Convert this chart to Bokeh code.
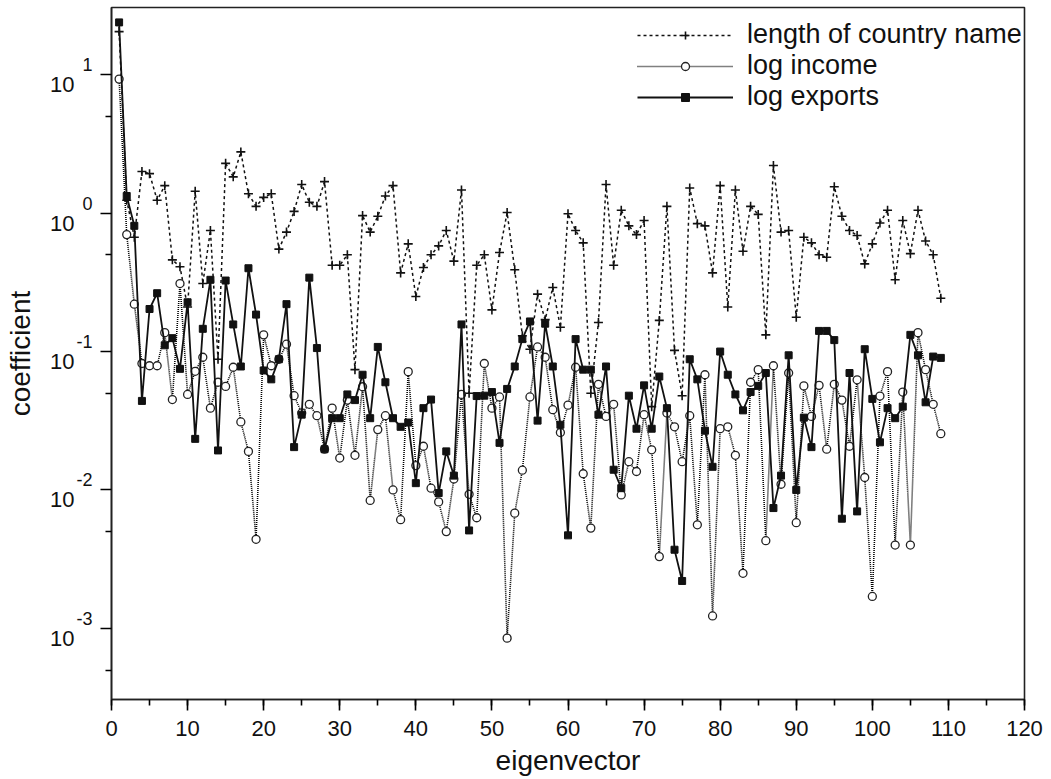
from bokeh.plotting import figure
from bokeh.models import (Range1d, FixedTicker, SingleIntervalTicker,
                          Legend, LegendItem, ColumnDataSource, LogAxis,
                          LogScale, CustomJSTickFormatter)
from bokeh.embed import file_html
from bokeh.resources import INLINE

# ---------------- data ----------------
eigenvector = list(range(1, 110))

country_name_length = [
    20.5, 1.24, 0.67, 2.0, 1.93, 1.24, 1.58, 0.46, 0.41, 0.21,
    1.44, 0.31, 0.75, 0.088, 2.29, 1.83, 2.77, 1.38, 1.12, 1.3,
    1.38, 0.55, 0.73, 1.03, 1.61, 1.2, 1.12, 1.69, 0.42, 0.42,
    0.50, 0.074, 0.96, 0.73, 0.95, 1.33, 1.58, 0.37, 0.60, 0.25,
    0.405, 0.50, 0.58, 0.75, 0.45, 1.47, 0.05, 0.42, 0.50, 0.20,
    0.52, 1.01, 0.39, 0.13, 0.104, 0.26, 0.17, 0.29, 0.15, 0.99,
    0.75, 0.61, 0.05, 0.162, 1.61, 0.42, 1.05, 0.81, 0.70, 0.885,
    0.04, 0.168, 1.12, 0.102, 0.048, 1.52, 0.84, 0.81, 0.37, 1.58,
    0.21, 1.47, 0.53, 1.12, 0.98, 0.132, 2.21, 0.73, 0.75, 0.177,
    0.67, 0.61, 0.50, 0.48, 1.55, 0.95, 0.75, 0.69, 0.43, 0.60,
    0.85, 1.05, 0.33, 0.885, 0.51, 1.05, 0.63, 0.50, 0.243,
]

log_income = [
    9.3, 0.70, 0.22, 0.082, 0.079, 0.079, 0.137, 0.045, 0.31, 0.049,
    0.072, 0.091, 0.039, 0.060, 0.056, 0.077, 0.031, 0.019, 0.0044, 0.132,
    0.079, 0.088, 0.113, 0.048, 0.036, 0.0416, 0.0344, 0.0197, 0.039, 0.017,
    0.0446, 0.0178, 0.0557, 0.0084, 0.0273, 0.0344, 0.010, 0.0061, 0.0716, 0.015,
    0.0207, 0.0103, 0.0082, 0.0050, 0.012, 0.049, 0.0093, 0.0063, 0.082, 0.039,
    0.047, 0.00085, 0.0068, 0.0139, 0.047, 0.108, 0.091, 0.038, 0.026, 0.041,
    0.077, 0.0131, 0.0053, 0.058, 0.034, 0.0416, 0.0092, 0.016, 0.0136, 0.035,
    0.0195, 0.0033, 0.036, 0.0286, 0.016, 0.0344, 0.0056, 0.068, 0.00123, 0.0277,
    0.0286, 0.0178, 0.0025, 0.060, 0.074, 0.0043, 0.079, 0.011, 0.070, 0.0058,
    0.0565, 0.034, 0.057, 0.0197, 0.058, 0.0446, 0.0207, 0.0625, 0.0123, 0.0017,
    0.0477, 0.0716, 0.004, 0.051, 0.004, 0.137, 0.074, 0.0416, 0.0255,
]

log_exports = [
    23.9, 1.33, 0.81, 0.044, 0.203, 0.264, 0.111, 0.125, 0.075, 0.227,
    0.0234, 0.146, 0.33, 0.0193, 0.326, 0.157, 0.078, 0.40, 0.185, 0.073,
    0.063, 0.088, 0.22, 0.0204, 0.035, 0.342, 0.106, 0.0197, 0.033, 0.033,
    0.049, 0.0446, 0.068, 0.033, 0.108, 0.060, 0.033, 0.0286, 0.0307, 0.0112,
    0.039, 0.045, 0.0095, 0.019, 0.0127, 0.157, 0.0051, 0.0477, 0.048, 0.051,
    0.0219, 0.0537, 0.078, 0.123, 0.165, 0.0317, 0.159, 0.078, 0.0296, 0.0047,
    0.123, 0.074, 0.074, 0.035, 0.078, 0.014, 0.0103, 0.048, 0.0277, 0.057,
    0.0277, 0.066, 0.039, 0.0037, 0.0022, 0.088, 0.063, 0.0268, 0.0147, 0.1,
    0.068, 0.049, 0.0376, 0.051, 0.0565, 0.070, 0.0074, 0.0127, 0.094, 0.010,
    0.0333, 0.0204, 0.141, 0.141, 0.121, 0.0062, 0.070, 0.007, 0.104, 0.0455,
    0.0221, 0.039, 0.033, 0.040, 0.132, 0.094, 0.043, 0.092, 0.090,
]

series_labels = ["length of country name", "log income", "log exports"]
x_label = "eigenvector"
y_label = "coefficient"
y_decade_exponents = [-3, -2, -1, 0, 1]
y_minor_ticks = [5e-4, 5e-3, 5e-2, 5e-1, 5.0]

# ---------------- styling ----------------
FONT = "Liberation Sans"
INK = "#111111"
AX = "#222222"

LOG_LO, LOG_HI = -3.514, 1.486          # visible decades of the y axis
FRAME_H = 692                            # frame height in px
PX_PER_DEC = FRAME_H / (LOG_HI - LOG_LO)
EXP_UP = 10 / PX_PER_DEC                 # exponent raised ~10px
BASE_DN = 10 / PX_PER_DEC                # "10" lowered ~10px

src = ColumnDataSource(dict(x=eigenvector, c=country_name_length,
                            inc=log_income, exp=log_exports))

p = figure(width=1051, height=779,
           x_range=Range1d(0, 120),
           y_range=Range1d(10 ** LOG_LO, 10 ** LOG_HI),
           y_axis_type="log",
           output_backend="svg", toolbar_location=None,
           min_border_left=111, min_border_right=27,
           min_border_top=7, min_border_bottom=80)

p.background_fill_color = "white"
p.border_fill_color = "white"
p.outline_line_color = AX
p.outline_line_width = 1.6
p.xgrid.visible = False
p.ygrid.visible = False

# x axis
xa = p.xaxis[0]
xa.ticker = SingleIntervalTicker(interval=10, num_minor_ticks=2)
xa.axis_label = x_label
xa.axis_label_text_font = FONT
xa.axis_label_text_font_size = "28px"
xa.axis_label_text_font_style = "normal"
xa.axis_label_text_color = INK
xa.axis_label_standoff = 6
xa.major_label_text_font = FONT
xa.major_label_text_font_size = "22px"
xa.major_label_text_color = INK
xa.major_label_standoff = 10
xa.major_tick_out = 11
xa.major_tick_in = 0
xa.minor_tick_out = 6
xa.minor_tick_in = 0
xa.axis_line_width = 1.6
xa.axis_line_color = AX
xa.major_tick_line_width = 1.6
xa.minor_tick_line_width = 1.6

# main y axis: ticks only
decades = [10.0 ** k for k in y_decade_exponents]
ya = p.yaxis[0]
ya.ticker = FixedTicker(ticks=decades, minor_ticks=y_minor_ticks)
ya.formatter = CustomJSTickFormatter(code="return ''")
ya.major_label_text_font = FONT
ya.major_label_text_font_size = "22px"
ya.major_label_standoff = 0
ya.major_tick_out = 11
ya.major_tick_in = 0
ya.minor_tick_out = 6
ya.minor_tick_in = 0
ya.axis_line_width = 1.6
ya.axis_line_color = AX
ya.major_tick_line_width = 1.6
ya.minor_tick_line_width = 1.6

# label axes: exponent (raised) and base "10" (lowered)
p.extra_y_ranges = {
    "exp": Range1d(10 ** (LOG_LO - EXP_UP), 10 ** (LOG_HI - EXP_UP)),
    "base": Range1d(10 ** (LOG_LO + BASE_DN), 10 ** (LOG_HI + BASE_DN)),
}
p.extra_y_scales = {"exp": LogScale(), "base": LogScale()}

exp_axis = LogAxis(y_range_name="exp",
                   ticker=FixedTicker(ticks=decades, minor_ticks=[]),
                   formatter=CustomJSTickFormatter(
                       code="return Math.round(Math.log10(tick)).toString()"),
                   axis_line_color=None, major_tick_line_color=None,
                   minor_tick_line_color=None, major_tick_out=0, major_tick_in=0,
                   minor_tick_out=0, minor_tick_in=0,
                   major_label_standoff=8,
                   major_label_text_font=FONT,
                   major_label_text_font_size="18px",
                   major_label_text_color=INK)
p.add_layout(exp_axis, "left")

base_axis = LogAxis(y_range_name="base",
                    ticker=FixedTicker(ticks=decades, minor_ticks=[]),
                    formatter=CustomJSTickFormatter(code="return '10'"),
                    axis_line_color=None, major_tick_line_color=None,
                    minor_tick_line_color=None, major_tick_out=0, major_tick_in=0,
                    minor_tick_out=0, minor_tick_in=0,
                    major_label_standoff=-1,
                    major_label_text_font=FONT,
                    major_label_text_font_size="22px",
                    major_label_text_color=INK,
                    axis_label=y_label,
                    axis_label_text_font=FONT,
                    axis_label_text_font_size="28px",
                    axis_label_text_font_style="normal",
                    axis_label_text_color=INK,
                    axis_label_standoff=11)
p.add_layout(base_axis, "left")

# series
l1 = p.line("x", "c", source=src, line_color=INK, line_width=1.5, line_dash="3 3")
s1 = p.scatter("x", "c", source=src, marker="cross", size=9,
               line_color=INK, line_width=1.6)
l2 = p.line("x", "inc", source=src, line_color="#000000", line_width=1.6, line_dash="1 1")
s2 = p.scatter("x", "inc", source=src, marker="circle", size=8,
               line_color=AX, line_width=1.3, fill_color="white")
l3 = p.line("x", "exp", source=src, line_color=INK, line_width=1.8)
s3 = p.scatter("x", "exp", source=src, marker="square", size=7,
               line_color=INK, fill_color=INK)

legend = Legend(items=[
    LegendItem(label=series_labels[0], renderers=[l1, s1]),
    LegendItem(label=series_labels[1], renderers=[l2, s2]),
    LegendItem(label=series_labels[2], renderers=[l3, s3]),
], location=(526, 587))
legend.glyph_width = 96
legend.glyph_height = 20
legend.label_standoff = 14
legend.label_height = 29
legend.spacing = 0
legend.padding = 0
legend.margin = 0
legend.border_line_color = None
legend.background_fill_alpha = 0
legend.label_text_font = FONT
legend.label_text_font_size = "27px"
legend.label_text_line_height = 0.9
legend.label_text_color = INK
p.add_layout(legend)

open("out.html", "w").write(file_html(p, INLINE))
